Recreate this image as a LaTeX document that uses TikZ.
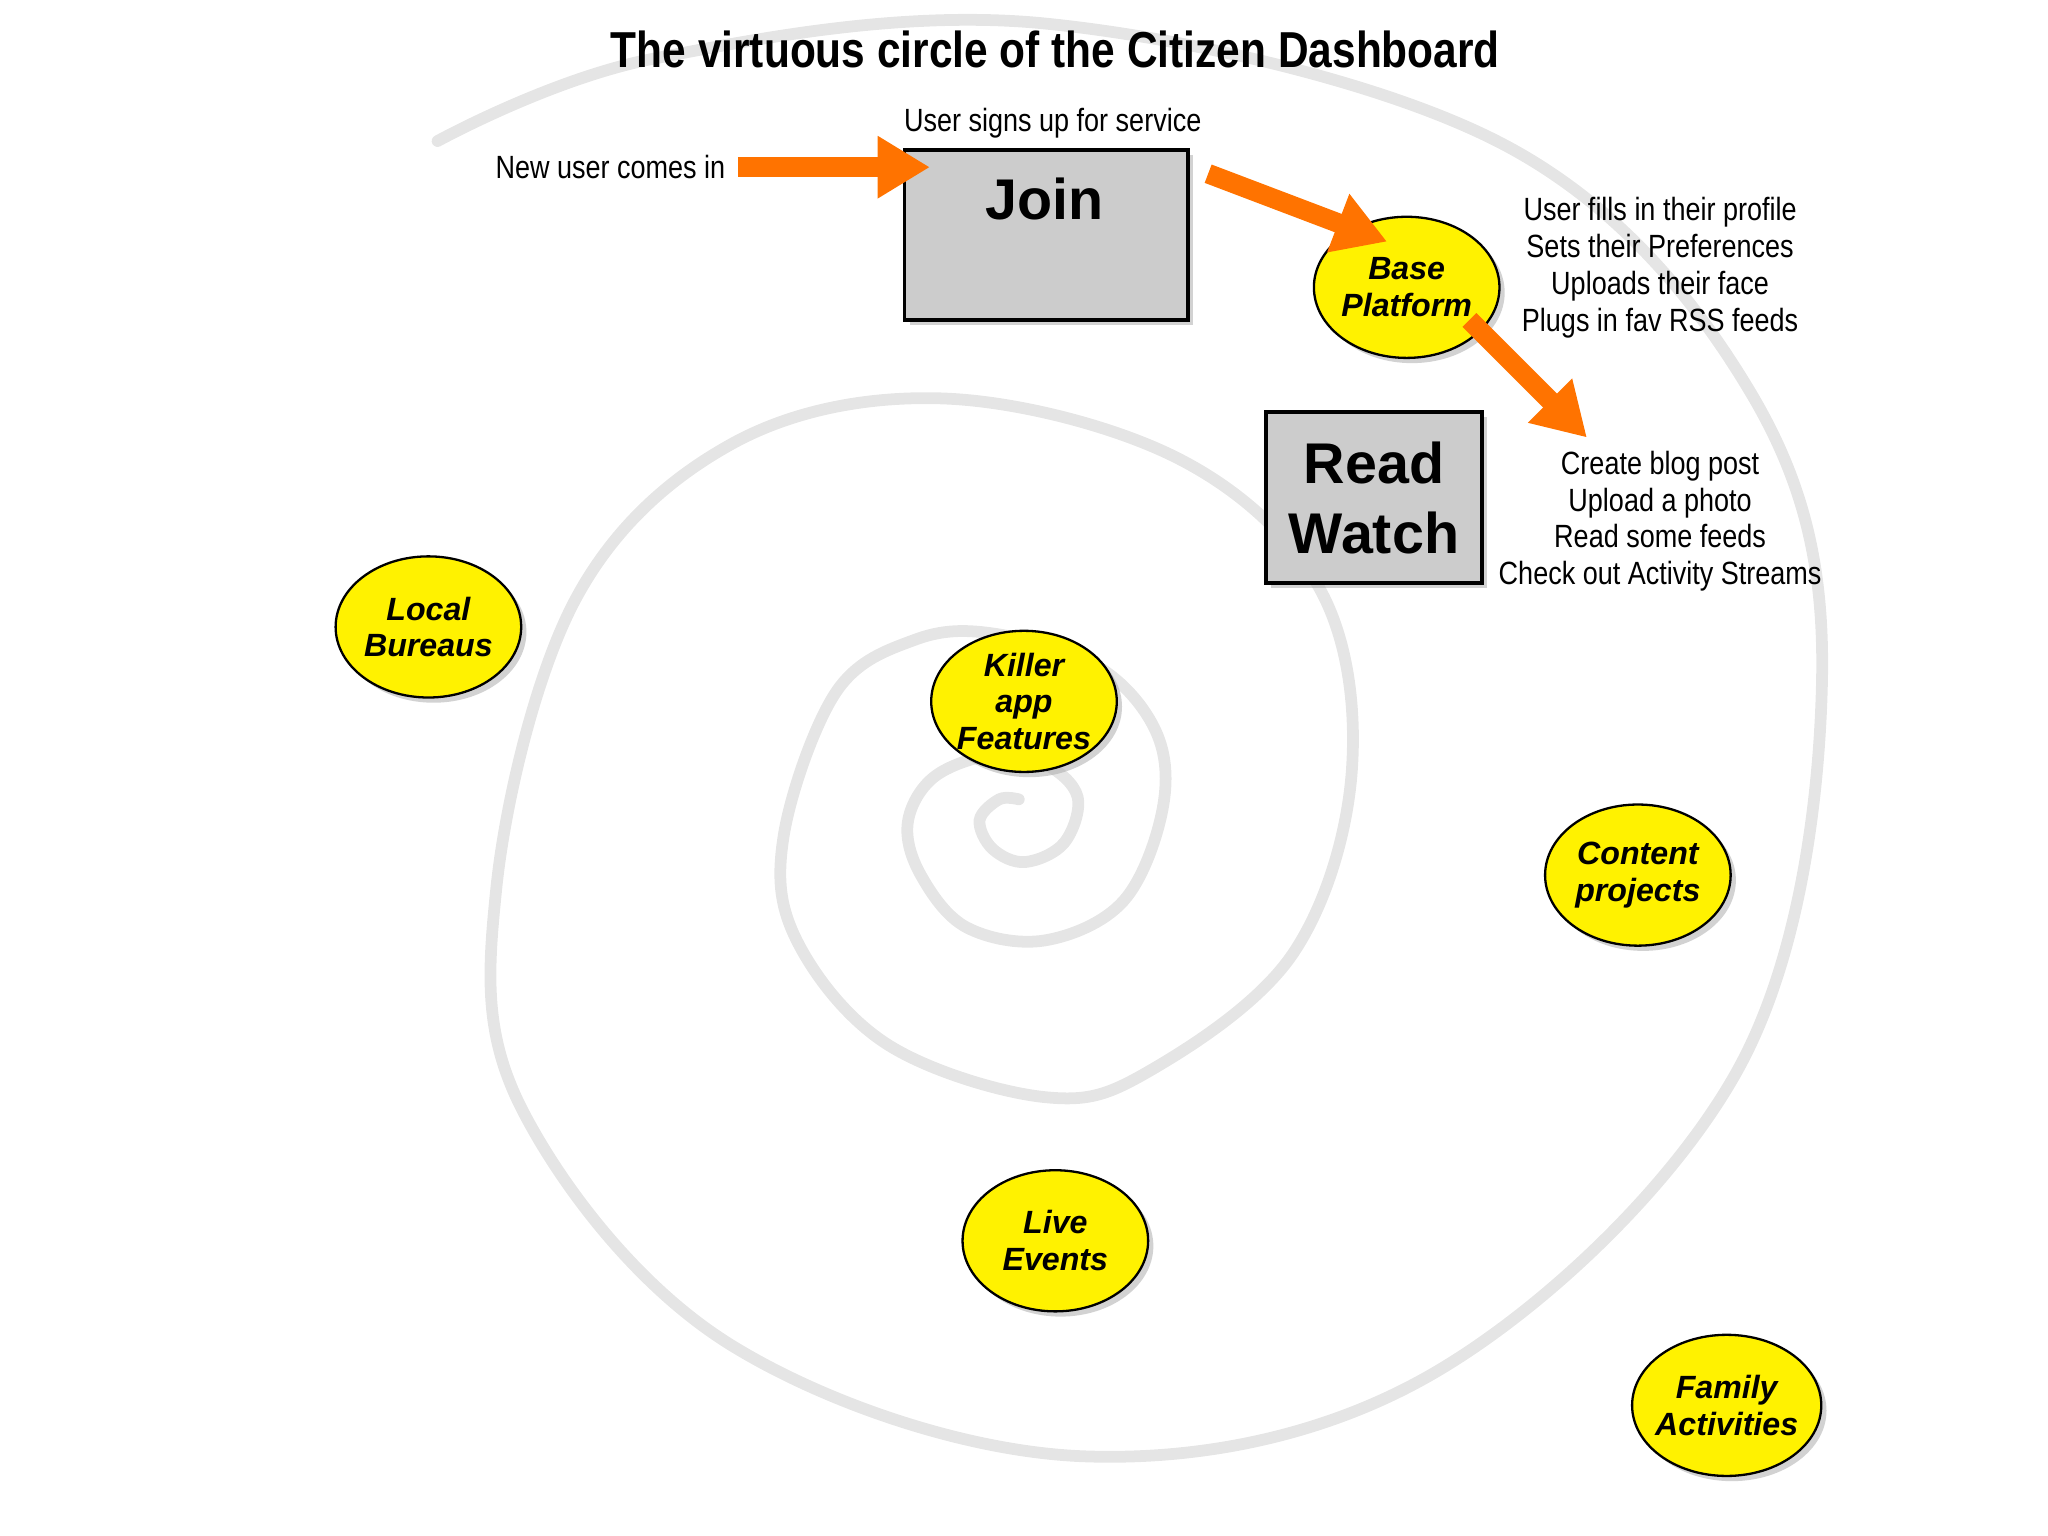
\documentclass[tikz,border=0pt]{standalone}
\usepackage{fontspec}
\setmainfont{Liberation Sans}
\newfontfamily\narrow{Liberation Sans}[FakeStretch=0.84]
\usetikzlibrary{shapes.geometric,arrows.meta,shadows}
\begin{document}
\begin{tikzpicture}[x=0.01cm,y=-0.01cm,
  blob/.style={ellipse,draw=black,line width=0.5pt,fill=yellow,minimum width=1.42cm,minimum height=1.08cm,inner sep=-1pt,align=center,font=\fontsize{7}{8}\selectfont\bfseries\itshape,drop shadow={shadow xshift=0.04cm,shadow yshift=-0.04cm,fill=gray!70}},
  box/.style={rectangle,draw=black,line width=0.8pt,fill=gray!40,drop shadow={shadow xshift=0.04cm,shadow yshift=-0.04cm,fill=gray!70}},
  lbl/.style={font=\narrow\fontsize{7}{8}\selectfont,align=center,inner sep=0pt},
  fat/.style={draw=orange!90!red,line width=0.15cm,-{Triangle[length=0.4cm,width=0.45cm]}}]
\useasboundingbox (0,0) rectangle (1568,1176);
\draw[gray!20,line width=0.09cm,line cap=round] plot[smooth,tension=0.6] coordinates{
(335,108) (500,45) (800,18) (1150,110) (1340,300) (1395,520) (1330,820) (1100,1050) (830,1115) (560,1030) (400,850) (380,680) (440,460) (560,340) (720,305) (900,350) (1010,450) (1035,590) (990,730) (880,820) (800,840) (680,800) (610,720) (600,640) (640,530) (700,490) (760,485) (840,510) (885,560) (890,620) (860,690) (800,720) (740,710) (705,670) (695,630) (715,595) (760,578) (800,585) (825,610) (815,645) (785,660) (760,650) (750,628) (765,612) (780,612)};
\node[lbl,font=\narrow\bfseries\fontsize{11}{13}\selectfont] (title) at (808,38) {The virtuous circle of the Citizen Dashboard};
\node[box,minimum width=2.17cm,minimum height=1.3cm] (join) at (801,180) {};
\node[font=\fontsize{12.5}{14}\selectfont\bfseries] (jt) at (800,152) {Join};
\node[box,minimum width=1.65cm,minimum height=1.31cm,align=center,font=\fontsize{12.5}{13}\selectfont\bfseries] (read) at (1052,381) {Read\\[0.08cm]Watch};
\node[blob] (base) at (1077,220) {Base\\Platform};
\node[blob] (local) at (328,480) {Local\\Bureaus};
\node[blob] (killer) at (784,537) {Killer\\app\\Features};
\node[blob] (content) at (1254,670) {Content\\projects};
\node[blob] (live) at (808,950) {Live\\Events};
\node[blob] (family) at (1322,1076) {Family\\Activities};
\node[lbl,anchor=east] (new) at (556,128) {New user comes in};
\node[lbl] (signs) at (806,94) {User signs up for service};
\node[lbl] (prof) at (1271,205) {User fills in their profile\\Sets their Preferences\\Uploads their face\\Plugs in fav RSS feeds};
\node[lbl] (acts) at (1271,399) {Create blog post\\Upload a photo\\Read some feeds\\Check out Activity Streams};
\coordinate (a1) at (565,128);
\coordinate (a1e) at (712,128);
\coordinate (a2) at (925,133);
\coordinate (a2e) at (1062,185);
\coordinate (a3) at (1125,245);
\coordinate (a3e) at (1215,335);
\draw[fat] (a1) -- (a1e);
\draw[fat] (a2) -- (a2e);
\draw[fat] (a3) -- (a3e);
\end{tikzpicture}
\end{document}
